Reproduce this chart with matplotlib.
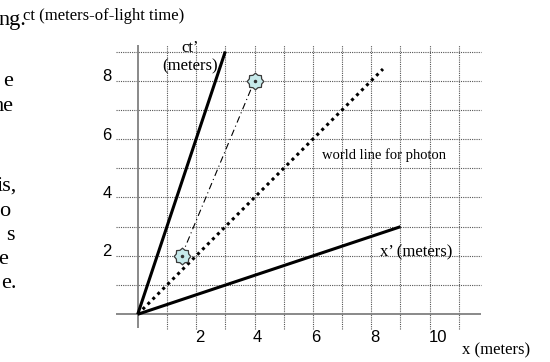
import numpy as np
import matplotlib
matplotlib.use("Agg")
import matplotlib.pyplot as plt
from matplotlib.path import Path
from matplotlib.transforms import ScaledTranslation

# ---- data ----
ct_prime_x = [0, 3]
ct_prime_y = [0, 9]
x_prime_x = [0, 9]
x_prime_y = [0, 3]
photon_x = [0, 8.4]
photon_y = [0, 8.4]
signal_x = [1.5, 4]
signal_y = [2, 8]
grid_x = list(range(1, 12))
grid_y = list(range(1, 10))
xtick_vals = [2, 4, 6, 8, 10]
ytick_vals = [2, 4, 6, 8]
left_fragments = ["ng.", "e", "he", "is,", "o", "s", "e", "e."]

W, H, DPI = 550, 362, 100
fig = plt.figure(figsize=(W / DPI, H / DPI), dpi=DPI)
ax = fig.add_axes([0, 0, 1, 1])
ax.set_xlim(-4.716, 14.12)
ax.set_ylim(-1.634, 10.764)
ax.axis("off")

serif = "Liberation Serif"
sans = "Liberation Sans"

x_lo, x_hi = -0.75, 11.76
y_lo, y_hi = -0.5, 9.22

# grid
for gx in grid_x:
    ax.plot([gx, gx], [y_lo, y_hi], color="#555555", lw=0.8,
            linestyle=(0, (1, 1)), zorder=1)
for gy in grid_y:
    ax.plot([x_lo, x_hi], [gy, gy], color="#555555", lw=0.8,
            linestyle=(0, (1, 1)), zorder=1)

# axes lines
ax.plot([x_lo, x_hi], [0, 0], color="#808080", lw=1.3, zorder=2,
        solid_capstyle="butt")
ax.plot([0, 0], [-0.47, y_hi], color="#808080", lw=1.3, zorder=2,
        solid_capstyle="butt")

# world lines
ax.plot(ct_prime_x, ct_prime_y, color="black", lw=2.2, zorder=3,
        solid_capstyle="butt")
ax.plot(x_prime_x, x_prime_y, color="black", lw=2.2, zorder=3,
        solid_capstyle="butt")
ax.plot(photon_x, photon_y, color="black", lw=2.2, zorder=3,
        linestyle=(0, (1, 1.3)))
ax.plot(signal_x, signal_y, color="black", lw=0.8, zorder=3,
        linestyle=(0, (6, 3, 1, 3)))

# star marker path (8 points, shallow)
n = 8
verts = []
for k in range(n):
    a_out = np.pi / 2 + k * 2 * np.pi / n
    a_in = a_out + np.pi / n
    verts.append((np.cos(a_out), np.sin(a_out)))
    verts.append((0.8 * np.cos(a_in), 0.8 * np.sin(a_in)))
verts.append(verts[0])
codes = [Path.MOVETO] + [Path.LINETO] * (len(verts) - 2) + [Path.CLOSEPOLY]
star = Path(verts, codes)

ax.plot(signal_x, signal_y, linestyle="none", marker=star, markersize=12,
        markerfacecolor="#c6e9ea", markeredgecolor="#3a3a3a",
        markeredgewidth=0.9, zorder=4)
ax.plot(signal_x, signal_y, linestyle="none", marker="o", markersize=1.5,
        color="#333333", zorder=5)

# tick labels
for v in xtick_vals:
    ax.text(v, 0, str(v), fontsize=12, family=sans, ha="left", va="center",
            transform=ax.transData + ScaledTranslation(-1 / 72, -23 / DPI, fig.dpi_scale_trans),
            zorder=5)
for v in ytick_vals:
    ax.text(x_lo, v, str(v), fontsize=12, family=sans, ha="right", va="center",
            transform=ax.transData + ScaledTranslation(-4 / DPI, 4 / DPI, fig.dpi_scale_trans),
            zorder=5)

def fx(px):
    return px / W

def fy(py):
    return 1 - py / H

# labels
fig.text(fx(23), fy(16), "ct (meters-of-light time)", family=serif,
         fontsize=12, ha="left", va="center")
fig.text(fx(462), fy(350), "x (meters)", family=serif, fontsize=12,
         ha="left", va="center")
fig.text(fx(190), fy(57), "ct\u2019\n(meters)", family=serif, fontsize=12,
         ha="center", va="center", multialignment="center", linespacing=1.2)
fig.text(fx(322), fy(155), "world line for photon", family=serif,
         fontsize=10.5, ha="left", va="center")
fig.text(fx(380), fy(252), "x\u2019 (meters)", family=serif, fontsize=12,
         ha="left", va="center")

# cut-off text fragments on the left (continuation of slide text)
frag_right = [26, 13, 14, 17, 10, 15, 8, 17]
frag_base = [25, 86, 111, 191, 216, 240, 264, 288]
for t, r, b in zip(left_fragments, frag_right, frag_base):
    fig.text(fx(r), fy(b), t, family=serif, fontsize=16, ha="right",
             va="baseline")

fig.savefig("out.png", dpi=DPI)
